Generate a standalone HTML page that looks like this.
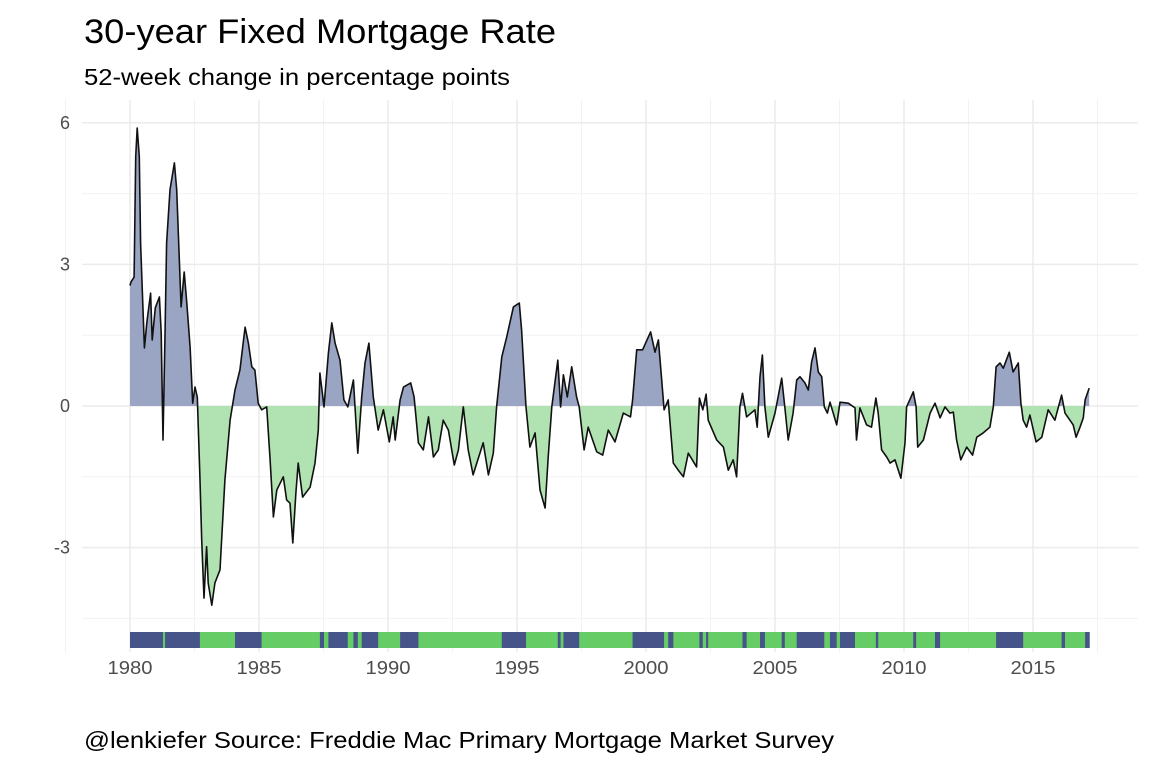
<!DOCTYPE html>
<html><head><meta charset="utf-8"><style>
body{margin:0;background:#fff;}
svg{display:block;font-family:"Liberation Sans",Arial,sans-serif;}
</style></head><body>
<svg id="chart" width="1152" height="768">
<text x="84" y="43" font-size="34" fill="#000" textLength="472" lengthAdjust="spacingAndGlyphs">30-year Fixed Mortgage Rate</text>
<text x="84" y="85" font-size="23" fill="#000" textLength="426" lengthAdjust="spacingAndGlyphs">52-week change in percentage points</text>
<text x="84" y="748" font-size="23" fill="#000" textLength="750" lengthAdjust="spacingAndGlyphs">@lenkiefer Source: Freddie Mac Primary Mortgage Market Survey</text>
<g id="grid"></g>
<g id="marks"></g>
<g id="axes"></g>
</svg>
<script>
const years=[1980.0,1980.04,1980.16,1980.22,1980.28,1980.36,1980.41,1980.48,1980.56,1980.65,1980.8,1980.86,1980.98,1981.14,1981.21,1981.28,1981.36,1981.42,1981.55,1981.72,1981.81,1981.98,1982.1,1982.2,1982.33,1982.43,1982.52,1982.61,1982.71,1982.78,1982.87,1982.97,1983.03,1983.17,1983.29,1983.49,1983.68,1983.88,1984.07,1984.26,1984.46,1984.59,1984.72,1984.84,1984.97,1985.1,1985.3,1985.43,1985.56,1985.69,1985.94,1986.07,1986.2,1986.31,1986.43,1986.52,1986.69,1986.98,1987.17,1987.3,1987.36,1987.52,1987.69,1987.82,1987.95,1988.14,1988.29,1988.44,1988.66,1988.83,1988.98,1989.11,1989.26,1989.43,1989.62,1989.82,1990.05,1990.2,1990.28,1990.47,1990.6,1990.88,1991.01,1991.18,1991.37,1991.57,1991.76,1991.95,1992.14,1992.34,1992.57,1992.73,1992.92,1993.11,1993.3,1993.69,1993.89,1994.08,1994.21,1994.41,1994.6,1994.86,1995.09,1995.18,1995.35,1995.5,1995.7,1995.89,1996.09,1996.21,1996.35,1996.58,1996.69,1996.8,1996.95,1997.12,1997.31,1997.41,1997.6,1997.76,1998.09,1998.32,1998.54,1998.8,1999.12,1999.4,1999.48,1999.64,1999.87,2000.18,2000.35,2000.48,2000.61,2000.7,2000.86,2001.06,2001.25,2001.45,2001.64,2001.96,2002.07,2002.2,2002.33,2002.41,2002.74,2003.0,2003.19,2003.38,2003.51,2003.64,2003.74,2003.9,2004.22,2004.31,2004.42,2004.51,2004.61,2004.74,2005.0,2005.26,2005.38,2005.51,2005.7,2005.84,2005.97,2006.16,2006.29,2006.42,2006.55,2006.68,2006.81,2006.91,2007.03,2007.13,2007.39,2007.52,2007.84,2008.1,2008.16,2008.29,2008.55,2008.74,2008.91,2009.0,2009.13,2009.33,2009.46,2009.65,2009.78,2009.88,2010.04,2010.1,2010.36,2010.47,2010.53,2010.75,2011.01,2011.2,2011.4,2011.59,2011.78,2011.91,2012.04,2012.2,2012.43,2012.66,2012.82,2013.07,2013.33,2013.46,2013.57,2013.72,2013.85,2014.08,2014.23,2014.43,2014.53,2014.62,2014.75,2014.88,2015.12,2015.34,2015.59,2015.85,2016.11,2016.24,2016.56,2016.67,2016.82,2016.95,2017.02,2017.18];
const changes=[2.55,2.63,2.73,5.28,5.89,5.28,3.45,2.39,1.23,1.76,2.39,1.40,2.08,2.31,1.55,-0.72,1.61,3.45,4.58,5.15,4.58,2.10,2.84,2.18,1.25,0.06,0.40,0.19,-1.50,-2.84,-4.07,-2.98,-3.75,-4.22,-3.75,-3.47,-1.57,-0.30,0.34,0.76,1.67,1.33,0.83,0.76,0.06,-0.08,-0.02,-1.14,-2.35,-1.78,-1.50,-1.99,-2.06,-2.90,-1.84,-1.21,-1.93,-1.72,-1.21,-0.51,0.70,-0.02,1.12,1.76,1.33,0.97,0.13,-0.02,0.55,-1.00,0.19,0.91,1.33,0.19,-0.51,-0.08,-0.76,-0.23,-0.72,0.13,0.40,0.49,0.19,-0.78,-0.93,-0.23,-1.08,-0.93,-0.30,-0.51,-1.25,-0.93,-0.02,-0.93,-1.46,-0.78,-1.46,-1.00,-0.02,1.04,1.46,2.10,2.18,1.61,-0.02,-0.87,-0.57,-1.78,-2.16,-1.08,-0.02,0.97,-0.02,0.66,0.19,0.83,0.19,-0.02,-0.93,-0.45,-0.97,-1.04,-0.51,-0.76,-0.15,-0.23,0.13,1.19,1.19,1.57,1.14,1.40,0.55,-0.08,0.13,-1.21,-1.36,-1.50,-1.00,-1.29,0.17,-0.08,0.25,-0.30,-0.72,-0.87,-1.36,-1.14,-1.50,-0.02,0.27,-0.23,-0.08,-0.45,0.62,1.08,-0.02,-0.66,-0.15,0.59,-0.02,-0.72,-0.15,0.55,0.62,0.49,0.34,0.93,1.23,0.72,0.62,-0.02,-0.15,0.08,-0.40,0.08,0.06,-0.04,-0.72,-0.04,-0.40,-0.45,0.17,-0.15,-0.93,-1.08,-1.21,-1.14,-1.36,-1.53,-0.78,-0.02,0.30,-0.02,-0.87,-0.72,-0.15,0.06,-0.25,-0.02,-0.15,-0.13,-0.72,-1.14,-0.87,-1.04,-0.66,-0.57,-0.45,-0.02,0.83,0.91,0.80,1.14,0.72,0.91,0.06,-0.30,-0.45,-0.19,-0.76,-0.66,-0.08,-0.30,0.23,-0.15,-0.40,-0.66,-0.45,-0.25,0.13,0.38];
const yTicks=[6,3,0,-3];
const xTicks=[1980,1985,1990,1995,2000,2005,2010,2015];

const NS="http://www.w3.org/2000/svg";
const X0=82,X1=1138,Y0=100,Y1=652;
const x=v=>130+(v-1980)*25.8;
const y=v=>406-v*47.2;
function mk(tag,attrs,parent){const e=document.createElementNS(NS,tag);for(const k in attrs)e.setAttribute(k,attrs[k]);parent.appendChild(e);return e;}
const grid=document.getElementById('grid'),marks=document.getElementById('marks'),axes=document.getElementById('axes');

for(let v=-4.5;v<=4.5;v+=3){const l=mk('line',{x1:X0,x2:X1,y1:y(v),y2:y(v),stroke:'#f2f2f2','stroke-width':1},grid);

}
for(let v=1977.5;v<=2017.5;v+=5){const l=mk('line',{x1:x(v),x2:x(v),y1:Y0,y2:Y1,stroke:'#f2f2f2','stroke-width':1},grid);

}
yTicks.forEach(v=>{const l=mk('line',{x1:X0,x2:X1,y1:y(v),y2:y(v),stroke:'#ebebeb','stroke-width':1.5},grid);


const t=mk('text',{x:70,y:y(v)+6,'text-anchor':'end','font-size':18,fill:'#4d4d4d'},axes);t.textContent=v;

});
xTicks.forEach(v=>{const l=mk('line',{x1:x(v),x2:x(v),y1:Y0,y2:Y1,stroke:'#ebebeb','stroke-width':1.5},grid);


const t=mk('text',{x:x(v),y:674,'text-anchor':'middle','font-size':18,fill:'#4d4d4d',textLength:45,lengthAdjust:'spacingAndGlyphs'},axes);t.textContent=v;

});

let line='';years.forEach((yr,i)=>{line+=(i?'L':'M')+x(yr).toFixed(1)+','+y(changes[i]).toFixed(1);});
const area=line+'L'+x(years[years.length-1]).toFixed(1)+','+y(0)+'L'+x(years[0]).toFixed(1)+','+y(0)+'Z';
const defs=mk('defs',{},marks);
const cp=mk('clipPath',{id:'pos'},defs);mk('rect',{x:0,y:0,width:1152,height:y(0)},cp);
const cn=mk('clipPath',{id:'neg'},defs);mk('rect',{x:0,y:y(0),width:1152,height:400},cn);
const ap=mk('path',{d:area,fill:'#9aa5c3','clip-path':'url(#pos)'},marks);


const an=mk('path',{d:area,fill:'#b1e2b1','clip-path':'url(#neg)'},marks);


const lp=mk('path',{d:line,fill:'none',stroke:'#111','stroke-width':1.6,'stroke-linejoin':'round'},marks);



for(let i=0;i<years.length-1;i++){const r=mk('rect',{x:x(years[i]),y:632,width:x(years[i+1])-x(years[i])+0.5,height:16,fill:changes[i]>=0?'#46548a':'#66cc66'},marks);

}
</script>
</body></html>
